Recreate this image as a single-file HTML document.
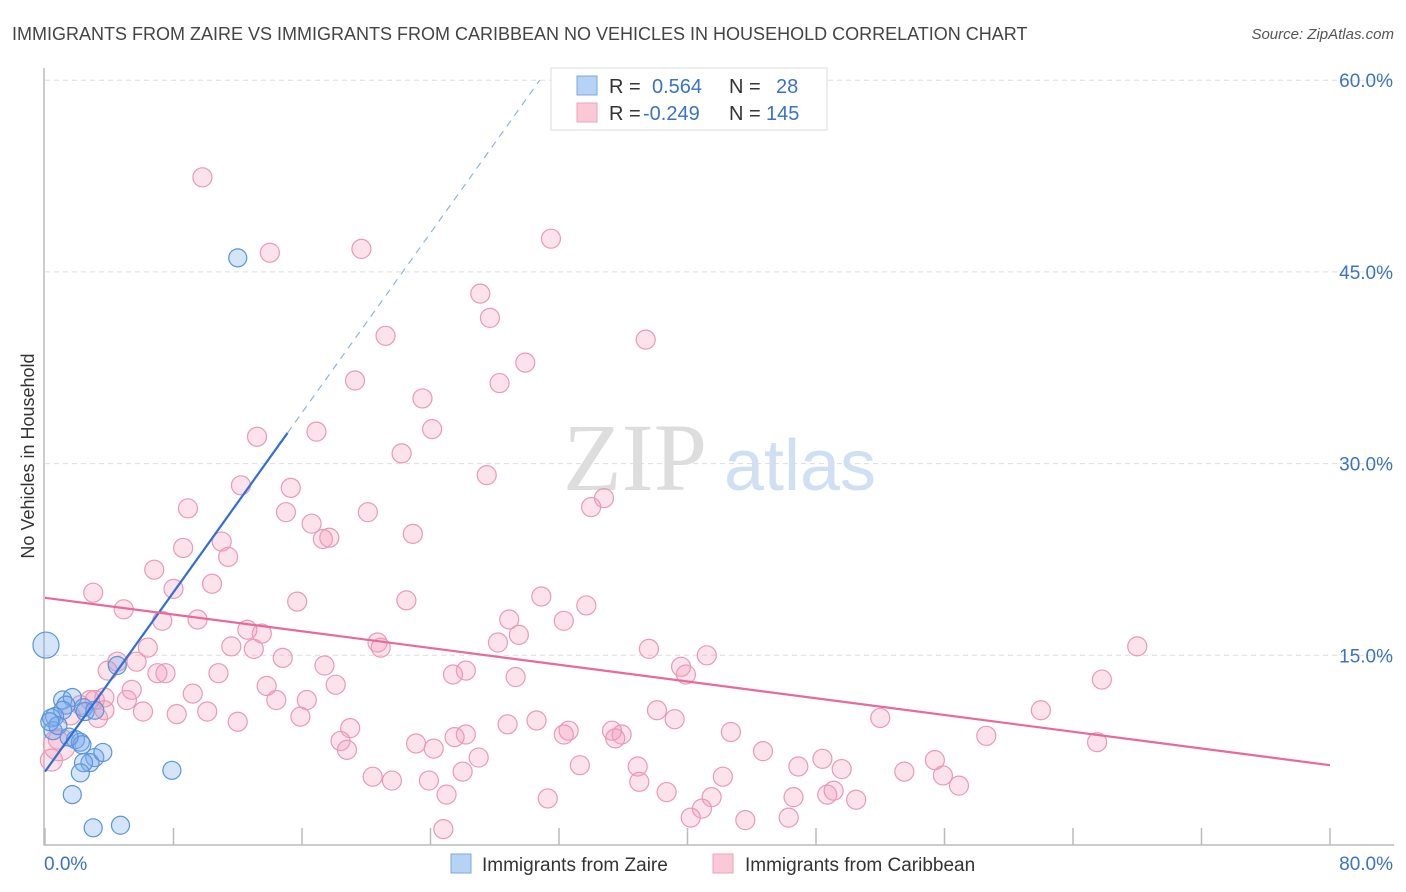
<!DOCTYPE html>
<html><head><meta charset="utf-8"><style>
body{margin:0;background:#fff;font-family:"Liberation Sans",sans-serif;}
</style></head><body>
<svg id="chart" width="1406" height="892" xmlns="http://www.w3.org/2000/svg" style="display:block">
<text x="12" y="40" font-size="18" fill="#444" font-family="Liberation Sans, sans-serif">IMMIGRANTS FROM ZAIRE VS IMMIGRANTS FROM CARIBBEAN NO VEHICLES IN HOUSEHOLD CORRELATION CHART</text>
<text x="1394" y="39" font-size="15" fill="#555" text-anchor="end" font-style="italic">Source: ZipAtlas.com</text>
<text transform="translate(34,456) rotate(-90)" font-size="18" fill="#333" text-anchor="middle">No Vehicles in Household</text>
<g>
<text x="635" y="490" font-size="96" fill="#ddd" text-anchor="middle" font-family="Liberation Serif, serif">ZIP</text>
<text x="800" y="490" font-size="72" fill="#cfe0f3" text-anchor="middle">atlas</text>
</g>
<g id="grid"></g><g id="axes"></g><g id="pts"></g><g id="lines"></g>
<g>
<rect x="551" y="68" width="276" height="62" fill="#fff" stroke="#ddd"/>
<rect x="577" y="76" width="20" height="19" fill="#b6d2f5" stroke="#7aa8e0"/>
<rect x="577" y="103" width="20" height="19" fill="#fbc8d8" stroke="#eda0ba"/>
<text x="609" y="93" font-size="20" fill="#333">R =</text>
<text x="652" y="93" font-size="20" fill="#3a72c8">0.564</text>
<text x="729" y="93" font-size="20" fill="#333">N =</text>
<text x="776" y="93" font-size="20" fill="#3a72c8">28</text>
<text x="609" y="120" font-size="20" fill="#333">R =</text>
<text x="643" y="120" font-size="20" fill="#3a72c8">-0.249</text>
<text x="729" y="120" font-size="20" fill="#333">N =</text>
<text x="766" y="120" font-size="20" fill="#3a72c8">145</text>
</g>
<g>
<rect x="451" y="854" width="20" height="19" fill="#b6d2f5" stroke="#7aa8e0"/>
<text x="482" y="871" font-size="19" fill="#333">Immigrants from Zaire</text>
<rect x="713" y="854" width="20" height="19" fill="#fbc8d8" stroke="#eda0ba"/>
<text x="745" y="871" font-size="19" fill="#333">Immigrants from Caribbean</text>
</g>
</svg>
<script>
const xTicks=[0,8,16,24,32,40,48,56,64,72,80];
const yTicks=[15,30,45,60];
const yTickLabels=["15.0%","30.0%","45.0%","60.0%"];
const xEndLabels=["0.0%","80.0%"];
const pinkX=[9.8,14.0,19.7,31.5,27.1,27.7,21.2,37.4,29.9,19.3,28.3,23.5,13.2,16.9,24.1,22.2,27.5,12.2,15.3,8.9,15.0,20.1,34.8,34.0,16.6,17.3,17.7,22.9,11.0,8.6,11.4,6.8,10.4,8.0,3.0,30.9,33.7,22.5,15.7,4.9,9.5,28.9,32.3,7.3,12.6,13.5,29.5,28.2,20.7,20.9,6.4,13.0,11.6,37.6,41.2,14.8,4.5,5.7,3.9,7.5,7.0,10.8,17.4,39.6,39.9,26.2,25.4,29.3,68.0,65.8,13.8,18.1,5.4,9.2,3.7,14.4,16.3,2.8,5.1,3.7,3.3,6.1,8.2,10.1,15.9,38.1,39.2,52.0,62.0,12.0,19.0,30.6,28.8,32.6,32.3,26.2,25.5,42.7,35.3,35.9,35.5,58.6,65.5,18.4,18.8,23.1,24.2,44.7,33.3,27.0,26.0,36.9,46.9,48.4,49.6,55.4,53.5,55.9,20.4,21.6,23.9,37.0,42.2,56.9,25.0,31.3,38.7,41.5,46.6,48.7,49.1,50.5,40.9,40.2,43.6,46.3,24.8,0.8,0.4,0.9,2.2,1.6,3.1];
const pinkY=[52.4,46.5,46.8,47.6,43.3,41.4,40.0,39.7,37.9,36.5,36.3,35.1,32.1,32.5,32.7,30.8,29.1,28.3,28.1,26.5,26.2,26.2,27.3,26.6,25.3,24.1,24.2,24.5,23.9,23.4,22.7,21.7,20.6,20.2,19.9,19.6,18.9,19.3,19.2,18.6,17.8,17.8,17.7,17.7,17.0,16.7,16.6,16.0,16.0,15.6,15.6,15.5,15.7,15.5,15.0,14.8,14.5,14.5,13.8,13.6,13.6,13.6,14.2,14.1,13.5,13.8,13.5,13.3,15.7,13.1,12.6,12.7,12.3,12.0,11.7,11.5,11.5,11.5,11.5,10.7,10.1,10.6,10.4,10.6,10.2,10.7,10.0,10.1,10.7,9.8,9.3,9.9,9.6,9.1,8.8,8.8,8.6,9.0,9.1,8.8,8.5,8.7,8.2,8.3,7.6,8.1,7.7,7.5,6.4,7.0,5.9,6.3,6.3,6.9,6.1,6.8,5.9,5.6,5.5,5.2,5.2,5.1,5.5,4.8,4.1,3.8,4.3,3.9,3.9,4.1,4.4,3.7,3.0,2.3,2.1,2.3,1.4,8.4,6.8,8.0,11.1,10.3,11.5];
const pinkBig=[138,139];
const blueX=[12.0,0.06,1.1,1.7,1.3,1.1,0.6,0.4,0.5,0.8,2.4,2.5,3.1,1.9,2.2,2.3,3.1,2.8,2.4,2.2,1.7,7.9,3.0,4.7,4.5,1.5,0.3,3.6];
const blueY=[46.1,15.8,11.5,11.7,11.1,10.7,10.2,10.1,9.1,9.5,10.9,10.6,10.7,8.4,8.2,8.0,7.0,6.6,6.6,5.8,4.1,6.0,1.5,1.7,14.2,8.6,9.8,7.4];
const blueTrend=[[0,5.9],[15.1,32.4]];
const blueDash=[[15.1,32.4],[30.8,60]];
const pinkTrend=[[0,19.5],[80,6.4]];

const X0=45,X1=1330,Y0=847,YPX=12.78;
const sx=v=>X0+v*(X1-X0)/80;
const sy=v=>Y0-v*YPX;
const NS="http://www.w3.org/2000/svg";
function mk(t,a,p){const e=document.createElementNS(NS,t);for(const k in a)e.setAttribute(k,a[k]);p.appendChild(e);return e;}
const grid=document.getElementById('grid'),axes=document.getElementById('axes'),pts=document.getElementById('pts'),lines=document.getElementById('lines');
yTicks.forEach((t,i)=>{
  const l=mk('line',{x1:45,x2:1394,y1:sy(t),y2:sy(t),stroke:'#ddd','stroke-dasharray':'5,4'},grid);
  
  
  const tx=mk('text',{x:1393,y:sy(t)+7,'font-size':19,fill:'#3a72c8','text-anchor':'end'},axes);
  tx.textContent=yTickLabels[i];
  
  
});
const ax=mk('path',{d:`M44 68 V845 H1394`,stroke:'#bbb',fill:'none','stroke-width':1.5},axes);


xTicks.forEach(t=>{
  const l=mk('line',{x1:sx(t),x2:sx(t),y1:828,y2:845,stroke:'#bbb','stroke-width':1.5},axes);
  
  
});
[[xEndLabels[0],44,'start'],[xEndLabels[1],1393,'end']].forEach(([s,x,a])=>{
  const t=mk('text',{x:x,y:870,'font-size':19,fill:'#3a72c8','text-anchor':a},axes);
  t.textContent=s;
  
  
});
pinkX.forEach((v,i)=>{
  const c=mk('circle',{cx:sx(v),cy:sy(pinkY[i]),r:pinkBig.includes(i)?(i==139?16:11):9.5,fill:'rgba(244,150,182,0.28)',stroke:'#ea9ab5','stroke-width':1.2},pts);
  
  
});
blueX.forEach((v,i)=>{
  const c=mk('circle',{cx:sx(v),cy:sy(blueY[i]),r:i==1?13:9,fill:'rgba(120,170,235,0.32)',stroke:'#5a95dd','stroke-width':1.2},pts);
  
  
});
const bl=mk('line',{x1:sx(blueTrend[0][0]),y1:sy(blueTrend[0][1]),x2:sx(blueTrend[1][0]),y2:sy(blueTrend[1][1]),stroke:'#2f6fd6','stroke-width':2.2},lines);


const bd=mk('line',{x1:sx(blueDash[0][0]),y1:sy(blueDash[0][1]),x2:sx(blueDash[1][0]),y2:sy(blueDash[1][1]),stroke:'#8fb2e6','stroke-width':1.2,'stroke-dasharray':'7,6'},lines);


const pl=mk('line',{x1:sx(pinkTrend[0][0]),y1:sy(pinkTrend[0][1]),x2:sx(pinkTrend[1][0]),y2:sy(pinkTrend[1][1]),stroke:'#e8699a','stroke-width':2.2},lines);


</script>
</body></html>
